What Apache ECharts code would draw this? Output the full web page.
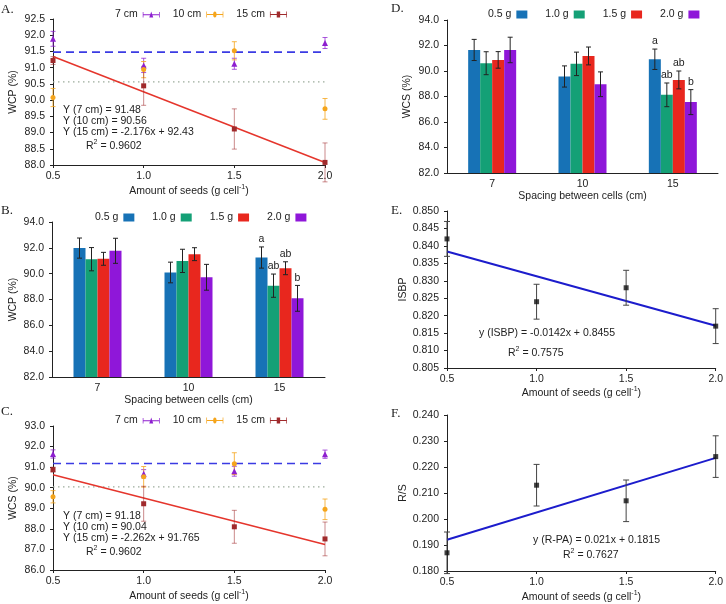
<!DOCTYPE html>
<html><head><meta charset="utf-8">
<script src="https://cdn.jsdelivr.net/npm/echarts@6/dist/echarts.min.js"></script>
<style>html,body{margin:0;padding:0;background:#fff}#c{width:726px;height:604px}</style>
</head><body><div id="c"></div>
<script>
// ---------- DATA ----------
const seedAmounts = [0.5, 1.0, 1.5, 2.0];
const spacingCats = ['7', '10', '15'];
const spacingNames = ['7 cm', '10 cm', '15 cm'];
const seedNames = ['0.5 g', '1.0 g', '1.5 g', '2.0 g'];

// Panel A: WCP (%) vs amount of seeds, per spacing
const wcpA7 = [91.89, 91.07, 91.12, 91.76];
const wcpA7Err = [0.23, 0.22, 0.17, 0.17];
const wcpA10 = [90.08, 90.94, 91.52, 89.73];
const wcpA10Err = [0.28, 0.25, 0.28, 0.32];
const wcpA15 = [91.22, 90.44, 89.11, 88.08];
const wcpA15Err = [0.12, 0.6, 0.62, 0.6];
const wcpAMean7 = 91.48;
const wcpAMean10 = 90.56;
const wcpAFit15 = [-2.176, 92.43]; // slope, intercept

// Panel B: WCP (%) bars by spacing, per seed amount
const wcpB05 = [91.98, 90.09, 91.25];
const wcpB10 = [91.12, 90.99, 89.07];
const wcpB15 = [91.15, 91.51, 90.42];
const wcpB20 = [91.77, 89.72, 88.09];
const wcpB05Err = [0.78, 0.8, 0.82];
const wcpB10Err = [0.9, 0.9, 0.9];
const wcpB15Err = [0.5, 0.5, 0.5];
const wcpB20Err = [0.97, 1.0, 1.0];
const wcpBLetters = [['', '', 'a'], ['', '', 'ab'], ['', '', 'ab'], ['', '', 'b']];

// Panel C: WCS (%) vs amount of seeds, per spacing
const wcsC7 = [91.64, 90.68, 90.80, 91.63];
const wcsC7Err = [0.2, 0.2, 0.24, 0.2];
const wcsC10 = [89.56, 90.53, 91.17, 88.95];
const wcsC10Err = [0.3, 0.5, 0.53, 0.5];
const wcsC15 = [90.88, 89.22, 88.10, 87.51];
const wcsC15Err = [0.12, 0.85, 0.8, 0.82];
const wcsCMean7 = 91.18;
const wcsCMean10 = 90.04;
const wcsCFit15 = [-2.262, 91.765];

// Panel D: WCS (%) bars by spacing, per seed amount
const wcsD05 = [91.65, 89.57, 90.92];
const wcsD10 = [90.61, 90.56, 88.13];
const wcsD15 = [90.87, 91.18, 89.30];
const wcsD20 = [91.65, 88.96, 87.56];
const wcsD05Err = [0.83, 0.83, 0.8];
const wcsD10Err = [0.9, 0.92, 0.93];
const wcsD15Err = [0.65, 0.7, 0.7];
const wcsD20Err = [1.0, 0.97, 0.98];
const wcsDLetters = [['', '', 'a'], ['', '', 'ab'], ['', '', 'ab'], ['', '', 'b']];

// Panel E: ISBP vs amount of seeds
const isbp = [0.842, 0.824, 0.828, 0.817];
const isbpErr = [0.005, 0.005, 0.005, 0.005];
const isbpFit = [-0.0142, 0.8455];

// Panel F: R/S vs amount of seeds
const rs = [0.187, 0.213, 0.207, 0.224];
const rsErr = [0.008, 0.008, 0.008, 0.008];
const rsFit = [0.021, 0.1815];

// ---------- STYLE ----------
const FONT = 'Liberation Sans, Arial, sans-serif';
const TXT = '#222';
const AX = '#222';
const cPurple = '#8e1fd0', cOrange = '#f5a51c', cDark = '#a02a2c';
const barColors = ['#1772b6', '#14a076', '#e8271e', '#8f17d9'];
const BAR_W = 12;

const nameRich = {
  a: { fontSize: 10.5, fontFamily: FONT, color: TXT, lineHeight: 14 },
  s: { fontSize: 7, fontFamily: FONT, color: TXT, lineHeight: 14, verticalAlign: 'top' }
};
const seedsName = '{a|Amount of seeds (g cell}{s|-1}{a|)}';

function pairs(xs, ys) { return xs.map((x, i) => [x, ys[i]]); }
function triples(xs, ys, es) { return xs.map((x, i) => [x, ys[i], es[i]]); }
function fitLine(coef) { const x0 = seedAmounts[0], x1 = seedAmounts[seedAmounts.length - 1]; return [[x0, coef[0] * x0 + coef[1]], [x1, coef[0] * x1 + coef[1]]]; }
function flat(v) { return [[seedAmounts[0], v], [seedAmounts[seedAmounts.length - 1], v]]; }

function errRender(color, cap, offset, letters) {
  return function (params, api) {
    const x = api.value(0), y = api.value(1), e = api.value(2);
    const hi = api.coord([x, y + e]), lo = api.coord([x, y - e]);
    const dx = offset || 0;
    const hx = hi[0] + dx;
    const st = { stroke: color, lineWidth: 1 };
    const ch = [
      { type: 'line', shape: { x1: hx, y1: hi[1], x2: hx, y2: lo[1] }, style: st },
      { type: 'line', shape: { x1: hx - cap, y1: hi[1], x2: hx + cap, y2: hi[1] }, style: st },
      { type: 'line', shape: { x1: hx - cap, y1: lo[1], x2: hx + cap, y2: lo[1] }, style: st }
    ];
    if (letters && letters[params.dataIndex]) {
      ch.push({ type: 'text', style: { text: letters[params.dataIndex], x: hx, y: hi[1] - 2, align: 'center', verticalAlign: 'bottom', fontSize: 10.5, fontFamily: FONT, fill: TXT } });
    }
    return { type: 'group', children: ch };
  };
}

function valueX(gi, name, gap) {
  return {
    type: 'value', gridIndex: gi, min: 0.5, max: 2.0, interval: 0.5,
    axisLine: { show: true, onZero: false, lineStyle: { color: AX, width: 1 } },
    axisTick: { show: true, length: 3, lineStyle: { color: AX } },
    axisLabel: { color: TXT, fontSize: 10.5, fontFamily: FONT, margin: 6, formatter: v => v.toFixed(1) },
    splitLine: { show: false },
    name: name, nameLocation: 'middle', nameGap: gap, nameTextStyle: { rich: nameRich }
  };
}
function catX(gi, gap) {
  return {
    type: 'category', gridIndex: gi, data: spacingCats,
    axisLine: { show: true, lineStyle: { color: AX, width: 1 } },
    axisTick: { show: false },
    axisLabel: { color: TXT, fontSize: 10.5, fontFamily: FONT, margin: 6 },
    name: 'Spacing between cells (cm)', nameLocation: 'middle', nameGap: gap,
    nameTextStyle: { color: TXT, fontSize: 10.5, fontFamily: FONT }
  };
}
function valueY(gi, min, max, interval, dec, name, gap) {
  return {
    type: 'value', gridIndex: gi, min: min, max: max, interval: interval,
    axisLine: { show: true, lineStyle: { color: AX, width: 1 } },
    axisTick: { show: true, length: 3, lineStyle: { color: AX } },
    axisLabel: { color: TXT, fontSize: 10.5, fontFamily: FONT, margin: 8, formatter: v => v.toFixed(dec) },
    splitLine: { show: false },
    name: name, nameLocation: 'middle', nameGap: gap, nameRotate: 90,
    nameTextStyle: { color: TXT, fontSize: 10.5, fontFamily: FONT }
  };
}

const series = [];
function scatterPanel(gi, ys7, e7, ys10, e10, ys15, e15, m7, m10, fit) {
  const specs = [
    [spacingNames[0], ys7, e7, cPurple, 'triangle', 'rgba(142,31,208,0.75)'],
    [spacingNames[1], ys10, e10, cOrange, 'circle', 'rgba(245,165,28,0.8)'],
    [spacingNames[2], ys15, e15, cDark, 'rect', 'rgba(160,42,44,0.55)']
  ];
  series.push({ type: 'line', xAxisIndex: gi, yAxisIndex: gi, data: flat(m10), showSymbol: false, silent: true,
    lineStyle: { color: '#9cac9c', width: 1.3, type: [1.5, 3.5] }, z: 2 });
  series.push({ type: 'line', xAxisIndex: gi, yAxisIndex: gi, data: flat(m7), showSymbol: false, silent: true,
    lineStyle: { color: '#3b3be3', width: 1.6, type: [8, 5] }, z: 2 });
  series.push({ type: 'line', xAxisIndex: gi, yAxisIndex: gi, data: fitLine(fit), showSymbol: false, silent: true,
    lineStyle: { color: '#e5352c', width: 1.5 }, z: 2 });
  specs.forEach(s => {
    series.push({ type: 'custom', xAxisIndex: gi, yAxisIndex: gi, name: s[0] + ' err', data: triples(seedAmounts, s[1], s[2]),
      renderItem: errRender(s[5], 2.5, 0), z: 3, silent: true });
    series.push({ type: 'scatter', xAxisIndex: gi, yAxisIndex: gi, name: s[0], data: pairs(seedAmounts, s[1]),
      symbol: s[4], symbolSize: s[4] === 'triangle' ? 6 : 5, clip: false, itemStyle: { color: s[3], opacity: 1 }, z: 4 });
  });
}
function barPanel(gi, vals, errs, letters) {
  vals.forEach((v, k) => {
    series.push({ type: 'bar', xAxisIndex: gi, yAxisIndex: gi, name: seedNames[k], data: v, barWidth: BAR_W, barGap: '0%',
      itemStyle: { color: barColors[k] }, z: 2 });
  });
  vals.forEach((v, k) => {
    series.push({ type: 'custom', xAxisIndex: gi, yAxisIndex: gi, name: seedNames[k] + ' err',
      data: v.map((y, i) => [i, y, errs[k][i]]),
      renderItem: errRender('#222', 2.5, (k - 1.5) * BAR_W, letters[k]), z: 5, silent: true });
  });
}
function simplePanel(gi, ys, es, fit) {
  series.push({ type: 'line', xAxisIndex: gi, yAxisIndex: gi, data: fitLine(fit), showSymbol: false, silent: true,
    lineStyle: { color: '#1c1ccc', width: 2 }, z: 2 });
  series.push({ type: 'custom', xAxisIndex: gi, yAxisIndex: gi, data: triples(seedAmounts, ys, es),
    renderItem: errRender('#444', 3, 0), z: 3, silent: true });
  series.push({ type: 'scatter', xAxisIndex: gi, yAxisIndex: gi, data: pairs(seedAmounts, ys),
    symbol: 'rect', symbolSize: 5, clip: false, itemStyle: { color: '#111' }, z: 4 });
}

scatterPanel(0, wcpA7, wcpA7Err, wcpA10, wcpA10Err, wcpA15, wcpA15Err, wcpAMean7, wcpAMean10, wcpAFit15);
barPanel(1, [wcpB05, wcpB10, wcpB15, wcpB20], [wcpB05Err, wcpB10Err, wcpB15Err, wcpB20Err], wcpBLetters);
scatterPanel(2, wcsC7, wcsC7Err, wcsC10, wcsC10Err, wcsC15, wcsC15Err, wcsCMean7, wcsCMean10, wcsCFit15);
barPanel(3, [wcsD05, wcsD10, wcsD15, wcsD20], [wcsD05Err, wcsD10Err, wcsD15Err, wcsD20Err], wcsDLetters);
simplePanel(4, isbp, isbpErr, isbpFit);
simplePanel(5, rs, rsErr, rsFit);

const iconBase = 'M0,4.4 L30,4.4 L30,5.6 L0,5.6 Z M0,2 L1.2,2 L1.2,8 L0,8 Z M28.8,2 L30,2 L30,8 L28.8,8 Z ';
const icons = [
  'path://' + iconBase + 'M11.5,8 L15,1.5 L18.5,8 Z',
  'path://' + iconBase + 'M12,5 A3,3 0 1 1 18,5 A3,3 0 1 1 12,5 Z',
  'path://' + iconBase + 'M12,2 L18,2 L18,8 L12,8 Z'
];
function scLegend(left, top) {
  return { left: left, top: top, orient: 'horizontal', itemGap: 13, itemWidth: 17, itemHeight: 6, align: 'right',
    symbolKeepAspect: false, selectedMode: false,
    textStyle: { color: TXT, fontSize: 10.5, fontFamily: FONT },
    data: spacingNames.map((n, i) => ({ name: n, icon: icons[i] })) };
}
function barLegend(left, top) {
  return { left: left, top: top, orient: 'horizontal', itemGap: 18, itemWidth: 11, itemHeight: 8, align: 'right',
    selectedMode: false, textStyle: { color: TXT, fontSize: 10.5, fontFamily: FONT },
    data: seedNames.map(n => ({ name: n, icon: 'rect' })) };
}

function label(t, x, y) {
  return { type: 'text', left: x, top: y, style: { text: t, fontSize: 13, fontFamily: 'Liberation Serif, serif', fill: '#222' } };
}
function eq(t, x, y) {
  return { type: 'text', left: x, top: y, style: { text: t, fontSize: 10.5, fontFamily: FONT, fill: TXT, rich: nameRich } };
}

const option = {
  backgroundColor: '#fff',
  animation: false,
  grid: [
    { left: 53, top: 19, width: 272, height: 146 },
    { left: 52, top: 222, width: 273, height: 155 },
    { left: 53, top: 426, width: 272, height: 144 },
    { left: 447, top: 20, width: 271, height: 153 },
    { left: 447, top: 211, width: 271, height: 157 },
    { left: 447, top: 415, width: 271, height: 156 }
  ],
  xAxis: [
    valueX(0, seedsName, 19),
    catX(1, 17),
    valueX(2, seedsName, 19),
    catX(3, 18),
    valueX(4, seedsName, 18),
    valueX(5, seedsName, 19)
  ],
  yAxis: [
    valueY(0, 88, 92.5, 0.5, 1, 'WCP (%)', 34),
    valueY(1, 82, 94, 2, 1, 'WCP (%)', 33),
    valueY(2, 86, 93, 1, 1, 'WCS (%)', 34),
    valueY(3, 82, 94, 2, 1, 'WCS (%)', 34),
    valueY(4, 0.805, 0.85, 0.005, 3, 'ISBP', 38),
    valueY(5, 0.18, 0.24, 0.01, 3, 'R/S', 38)
  ],
  legend: [scLegend(110, 4), barLegend(90, 207), scLegend(110, 410), barLegend(483, 4)],
  graphic: [
    label('A.', 1, 3), label('B.', 1, 204), label('C.', 1, 405),
    label('D.', 391, 2), label('E.', 391, 204), label('F.', 391, 407),
    eq('Y (7 cm) = 91.48', 63, 105), eq('Y (10 cm) = 90.56', 63, 116), eq('Y (15 cm) = -2.176x + 92.43', 63, 127),
    eq('{a|R}{s|2}{a| = 0.9602}', 86, 139),
    eq('Y (7 cm) = 91.18', 63, 511), eq('Y (10 cm) = 90.04', 63, 522), eq('Y (15 cm) = -2.262x + 91.765', 63, 533),
    eq('{a|R}{s|2}{a| = 0.9602}', 86, 545),
    eq('y (ISBP) = -0.0142x + 0.8455', 479, 328), eq('{a|R}{s|2}{a| = 0.7575}', 508, 346),
    eq('y (R-PA) = 0.021x + 0.1815', 533, 535), eq('{a|R}{s|2}{a| = 0.7627}', 563, 548)
  ],
  series: series
};
const chart = echarts.init(document.getElementById('c'), null, { renderer: 'canvas' });
chart.setOption(option);
</script>
</body></html>
